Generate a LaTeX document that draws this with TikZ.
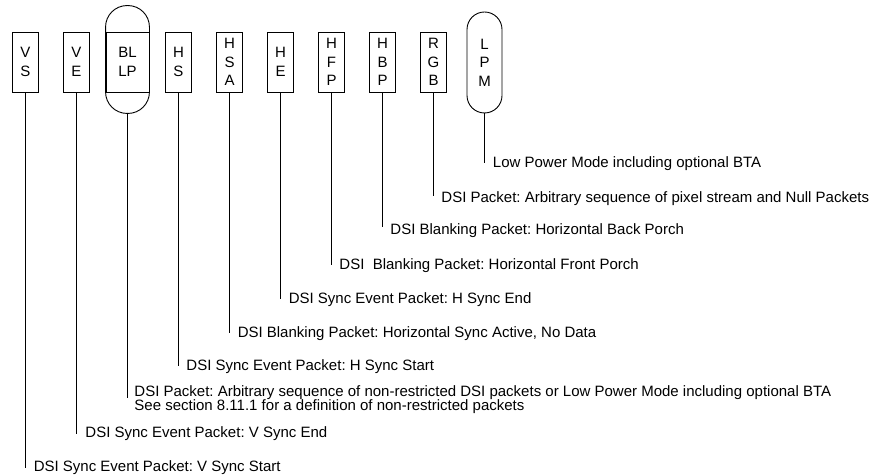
\documentclass[tikz,border=0pt]{standalone}
\usepackage{fontspec}
\setmainfont{Liberation Sans}
\frenchspacing
\newcommand\mytightlines{\setlength{\lineskiplimit}{-20pt}\setlength{\lineskip}{0pt}}
\begin{document}
\begin{tikzpicture}[x=1bp,y=-1bp,line width=0.9bp,
  tag/.style={draw,rectangle,inner sep=0pt,minimum width=25.5bp,minimum height=60bp,
    align=center,font=\fontsize{15bp}{18.5bp}\selectfont},
  lbl/.style={anchor=base west,inner sep=0pt,align=left,
    font=\fontsize{15bp}{13.3bp}\selectfont\mytightlines\frenchspacing}]
\useasboundingbox (0,0) rectangle (873,475);
% boxes
\node[tag] (vs) at (25.5,62) {V\\S};
\node[tag] (ve) at (76.5,62) {V\\E};
\node[tag,minimum width=43bp] (bllp) at (127.5,62) {BL\\LP};
\draw[rounded corners=21.5bp] ([yshift=26bp]bllp.north west) rectangle ([yshift=-21bp]bllp.south east);
\coordinate (bllpb) at ([yshift=-21bp]bllp.south);
\node[tag] (hs) at (178.5,62) {H\\S};
\node[tag] (hsa) at (229.5,62) {H\\S\\A};
\node[tag] (he) at (280.5,62) {H\\E};
\node[tag] (hfp) at (331.5,62) {H\\F\\P};
\node[tag] (hbp) at (382.5,62) {H\\B\\P};
\node[tag] (rgb) at (433.5,62) {R\\G\\B};
\node[tag,minimum width=35bp,minimum height=101bp,rounded corners=17.5bp] (lpm) at (484.5,62.5) {L\\P\\M};
% labels
\node[lbl] (tlpm) at (492.5,167.5) {Low Power Mode including optional BTA};
\node[lbl] (trgb) at (441,203) {DSI Packet: Arbitrary sequence of pixel stream and Null Packets};
\node[lbl] (thbp) at (390,235) {DSI Blanking Packet: Horizontal Back Porch};
\node[lbl] (thfp) at (339,269.3) {DSI\ \ Blanking Packet: Horizontal Front Porch};
\node[lbl] (the) at (288.3,304) {DSI Sync Event Packet: H Sync End};
\node[lbl] (thsa) at (237.3,337.7) {DSI Blanking Packet: Horizontal Sync Active, No Data};
\node[lbl] (ths) at (186,370.7) {DSI Sync Event Packet: H Sync Start};
\node[lbl] (tbllp) at (134,410) {DSI Packet: Arbitrary sequence of non-restricted DSI packets or Low Power Mode including optional BTA\\See section 8.11.1 for a definition of non-restricted packets};
\node[lbl] (tve) at (85,437.7) {DSI Sync Event Packet: V Sync End};
\node[lbl] (tvs) at (33.3,471.7) {DSI Sync Event Packet: V Sync Start};
% stem ends
\coordinate (elpm) at (484.5,163.3);
\coordinate (ergb) at (433.5,196);
\coordinate (ehbp) at (382.5,226.7);
\coordinate (ehfp) at (331.5,265);
\coordinate (ehe) at (280.5,299.3);
\coordinate (ehsa) at (229.5,333.3);
\coordinate (ehs) at (178.5,366);
\coordinate (ebllp) at (127.5,397.5);
\coordinate (eve) at (76.5,434.3);
\coordinate (evs) at (25.5,467.7);
% stems
\draw (lpm.south) -- (elpm);
\draw (rgb.south) -- (ergb);
\draw (hbp.south) -- (ehbp);
\draw (hfp.south) -- (ehfp);
\draw (he.south) -- (ehe);
\draw (hsa.south) -- (ehsa);
\draw (hs.south) -- (ehs);
\draw (bllpb) -- (ebllp);
\draw (ve.south) -- (eve);
\draw (vs.south) -- (evs);
\end{tikzpicture}
\end{document}
